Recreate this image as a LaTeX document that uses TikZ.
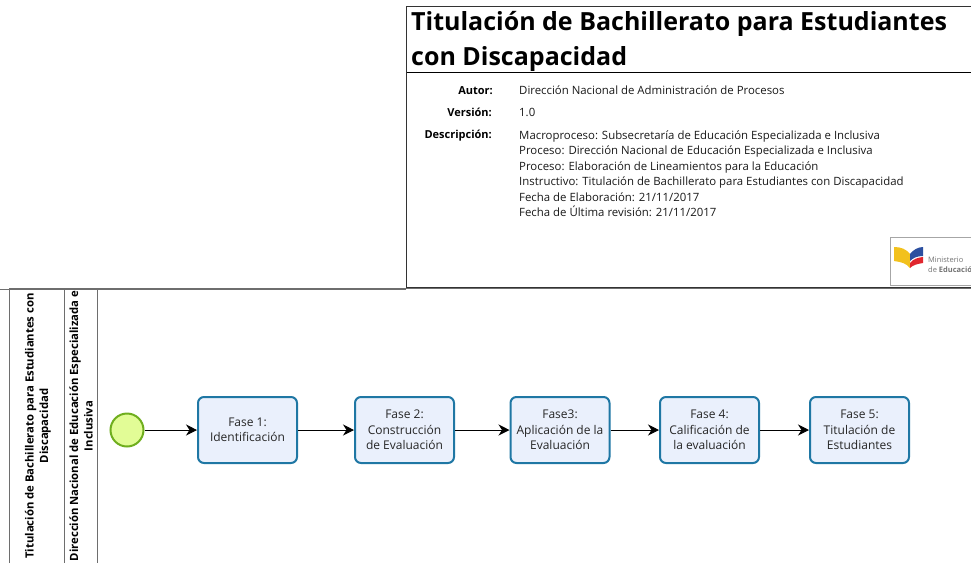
\documentclass[tikz,border=0pt]{standalone}
\usepackage{fontspec}
\setmainfont{Open Sans}
\usetikzlibrary{arrows.meta}
\definecolor{taskline}{HTML}{1F77A4}
\definecolor{taskfill}{HTML}{EAF0FC}
\definecolor{startline}{HTML}{6FAE1E}
\definecolor{startfill}{HTML}{E2FC96}
\definecolor{lanegray}{HTML}{6E6E6E}
\definecolor{logoyellow}{HTML}{F2C11D}
\definecolor{logoblue}{HTML}{2B4FA0}
\definecolor{logored}{HTML}{E0262E}
\tikzset{
  px/.style={x=1pt,y=-1pt},
  taskbox/.style={draw=taskline,fill=taskfill,line width=2pt,rounded corners=6pt,minimum width=99pt,minimum height=66pt,inner sep=0pt,align=center,font=\fontsize{12}{15.5}\selectfont,text=black!85},
  startev/.style={circle,draw=startline,fill=startfill,line width=2pt,minimum size=33pt,inner sep=0pt},
  flow/.style={draw=black,line width=1pt,-{Stealth[length=11pt,width=11pt,inset=3.5pt]}},
  lbl/.style={anchor=base east,font=\fontsize{11}{13}\selectfont\bfseries,inner sep=0pt},
  val/.style={anchor=north west,font=\fontsize{11.4}{15.4}\selectfont,inner sep=0pt,align=left,text=black!90},
  lanetext/.style={rotate=90,align=center,font=\fontsize{11.3}{14.5}\selectfont\bfseries,inner sep=0pt}
}
\begin{document}
\begin{tikzpicture}[px]
\useasboundingbox (0,0) rectangle (971,563);
\clip (0,0) rectangle (971,563);
% header
\draw[black!80,line width=1pt] (971,6.5) -- (406.5,6.5) -- (406.5,287.5) -- (971,287.5);
\draw[black,line width=1pt] (406.5,72) -- (971,72);
\node[anchor=north west,inner sep=0pt,align=left,font=\fontsize{25}{35.5}\selectfont\bfseries] (title) at (411,11) {Titulación de Bachillerato para Estudiantes\\con Discapacidad};
\node[lbl] (l1) at (493,94) {Autor:};
\node[lbl] (l2) at (492,116) {Versión:};
\node[lbl] (l3) at (492,138) {Descripción:};
\node[val] (v1) at (519,86) {Dirección Nacional de Administración de Procesos};
\node[val] (v2) at (519,108) {1.0};
\node[val] (v3) at (519,130.5) {Macroproceso: Subsecretaría de Educación Especializada e Inclusiva\\Proceso: Dirección Nacional de Educación Especializada e Inclusiva\\Proceso: Elaboración de Lineamientos para la Educación\\Instructivo: Titulación de Bachillerato para Estudiantes con Discapacidad\\Fecha de Elaboración: 21/11/2017\\Fecha de Última revisión: 21/11/2017};
% logo
\draw[black!35,line width=0.7pt] (971,237.5) -- (890,237.5) -- (890,285) -- (971,285);
\fill[logoyellow] (894,247) .. controls (901,247) and (906,249) .. (910,254) -- (910,268) .. controls (906,263) and (901,262) .. (894,261) -- cycle;
\fill[logoblue] (910,254) .. controls (913,250) and (918,247) .. (923,247) -- (923,256) .. controls (917,256) and (913,258) .. (910,261) -- cycle;
\fill[logored] (910,263) .. controls (913,259) and (918,257.5) .. (923,257) -- (923,263) .. controls (917,264) and (913,265) .. (910,268) -- cycle;
\node[anchor=north west,inner sep=0pt,align=left,font=\fontsize{7.5}{10}\selectfont,text=black!55] (logo) at (928,256.5) {Ministerio\\de \textbf{Educación}};
% swimlanes
\draw[lanegray,line width=1pt] (0,289) -- (406,289);
\draw[lanegray,line width=1pt] (9.5,563) -- (9.5,288.5) -- (971,288.5);
\draw[lanegray,line width=1pt] (64,288.5) -- (64,563);
\draw[lanegray,line width=1pt] (97,288.5) -- (97,563);
\node[lanetext] (pool) at (38,426) {Titulación de Bachillerato para Estudiantes con\\Discapacidad};
\node[lanetext] (lane) at (81,426) {Dirección Nacional de Educación Especializada e\\Inclusiva};
% flow
\node[startev] (s) at (127,430) {};
\node[taskbox] (t1) at (247.5,430) {Fase 1:\\Identificación};
\node[taskbox] (t2) at (404.5,430) {Fase 2:\\Construcción\\de Evaluación};
\node[taskbox] (t3) at (560,430) {Fase3:\\Aplicación de la\\Evaluación};
\node[taskbox] (t4) at (709.5,430) {Fase 4:\\Calificación de\\la evaluación};
\node[taskbox] (t5) at (859.5,430) {Fase 5:\\Titulación de\\Estudiantes};
\draw[flow] (s) -- (t1);
\draw[flow] (t1) -- (t2);
\draw[flow] (t2) -- (t3);
\draw[flow] (t3) -- (t4);
\draw[flow] (t4) -- (t5);
\end{tikzpicture}
\end{document}
